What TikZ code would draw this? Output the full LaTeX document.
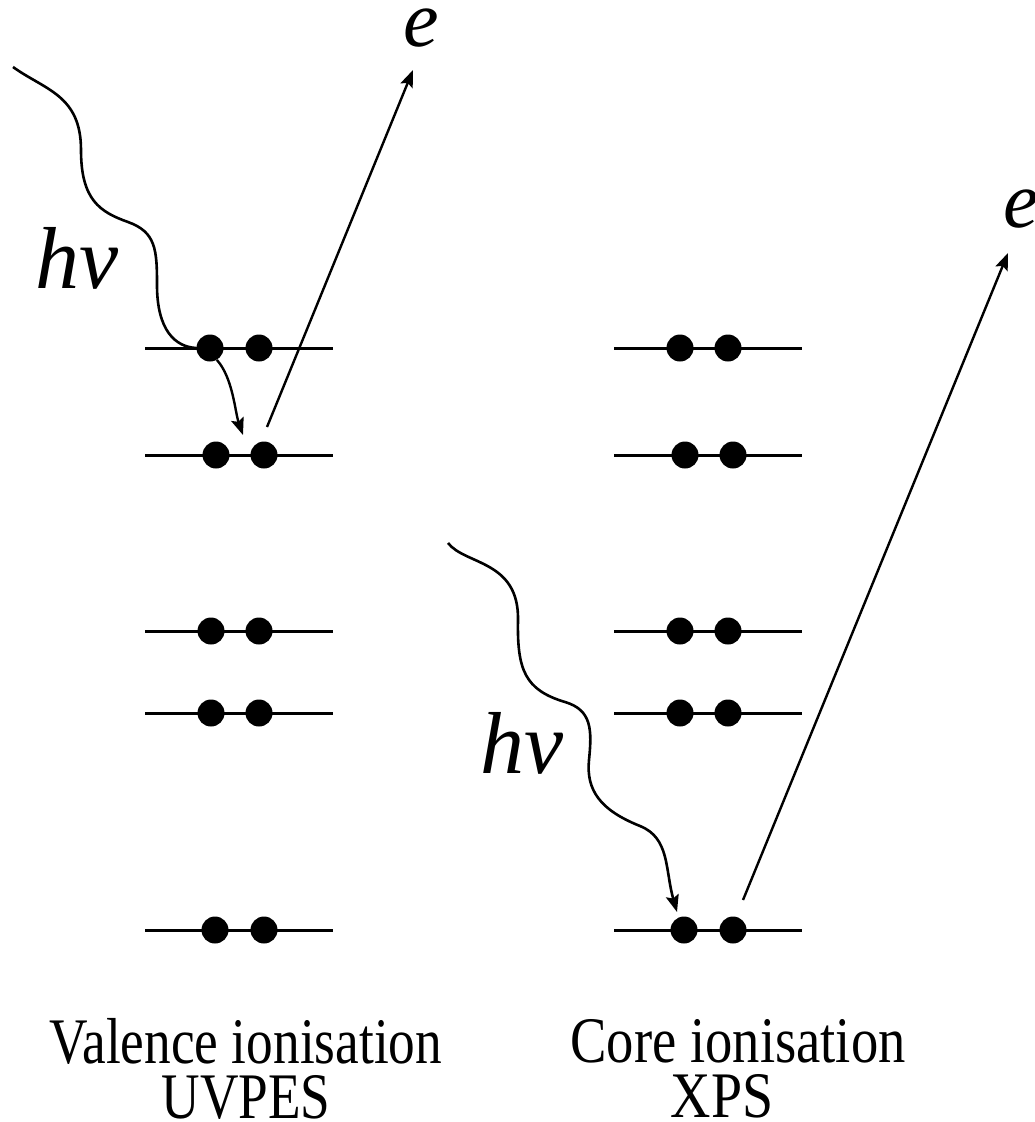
\documentclass[tikz,border=0pt]{standalone}
\usepackage{fontspec}
\setmainfont{Liberation Serif}
\usetikzlibrary{arrows.meta}
\begin{document}
\begin{tikzpicture}[x=1pt,y=-1pt,
 lvl/.style={line width=3pt},
 edot/.style={circle,fill=black,inner sep=0pt,minimum size=27pt},
 wave/.style={line width=2.6pt},
 tipped/.style={-{Stealth[length=17pt,width=13pt,inset=3pt]}},
 eline/.style={line width=2.4pt,tipped},
 lab/.style={font=\fontsize{88}{88}\selectfont\itshape, inner sep=0pt},
 elab/.style={font=\fontsize{80}{80}\selectfont\itshape, inner sep=0pt},
 captxt/.style={font=\fontsize{65}{55}\selectfont, inner sep=0pt, align=center}]
\useasboundingbox (0,0) rectangle (1034,1122);
% levels
\foreach \i/\y in {1/348,2/455,3/631,4/713,5/930}{
  \coordinate (Ls\i) at (145,\y); \coordinate (Le\i) at (333,\y);
  \coordinate (Rs\i) at (614,\y); \coordinate (Re\i) at (802,\y);
  \draw[lvl] (Ls\i) -- (Le\i);
  \draw[lvl] (Rs\i) -- (Re\i);
}
% left dots
\node[edot] (L1a) at (210,348) {}; \node[edot] (L1b) at (259,348) {};
\node[edot] (L2a) at (216,455) {}; \node[edot] (L2b) at (264,455) {};
\node[edot] (L3a) at (211,631) {}; \node[edot] (L3b) at (259,631) {};
\node[edot] (L4a) at (211,713) {}; \node[edot] (L4b) at (259,713) {};
\node[edot] (L5a) at (215,930) {}; \node[edot] (L5b) at (264,930) {};
% right dots
\node[edot] (R1a) at (680,348) {}; \node[edot] (R1b) at (728,348) {};
\node[edot] (R2a) at (685,455) {}; \node[edot] (R2b) at (733,455) {};
\node[edot] (R3a) at (680,631) {}; \node[edot] (R3b) at (728,631) {};
\node[edot] (R4a) at (680,713) {}; \node[edot] (R4b) at (728,713) {};
\node[edot] (R5a) at (684,930) {}; \node[edot] (R5b) at (733,930) {};
% labels
\node[elab,anchor=base] (eL) at (421,46) {e};
\node[elab,anchor=base] (eR) at (1021,227) {e};
\node[lab,anchor=base] (hvL) at (77,288) {hν};
\node[lab,anchor=base] (hvR) at (522,773) {hν};
\node[captxt,anchor=north] (c1) at (246,1018) {\scalebox{0.82}[1]{Valence ionisation}\\\scalebox{0.82}[1]{UVPES}};
\node[captxt,anchor=north] (c2) at (738,1019) {\scalebox{0.84}[1]{Core ionisation}\\\hspace*{-32pt}\scalebox{0.86}[1]{XPS}};
% left photon
\coordinate (pL) at (13,67);
\draw[wave] (pL) .. controls (45,90) and (81,95) .. (81,150)
  .. controls (81,200) and (100,212) .. (128,222)
  .. controls (156,232) and (157,250) .. (157,285)
  .. controls (157,330) and (175,347) .. (L1a.west);
% left internal arrow
\coordinate (tL) at (243,435);
\draw[eline] (L1a.-60) .. controls (233,378) and (235,412) .. (tL);
% left electron
\coordinate (fL) at (267,427);
\coordinate (aL) at (413,70);
\draw[eline] (fL) -- (aL);
% right photon
\coordinate (pR) at (448,543);
\coordinate (tR) at (677,912);
\draw[wave,tipped] (pR) .. controls (465,565) and (519,560) .. (518,620)
  .. controls (517,670) and (525,690) .. (565,702)
  .. controls (592,710) and (592,730) .. (589,760)
  .. controls (586,790) and (600,810) .. (640,826)
  .. controls (670,838) and (665,870) .. (tR);
% right electron
\coordinate (fR) at (743,900);
\coordinate (aR) at (1008,253);
\draw[eline] (fR) -- (aR);
\end{tikzpicture}
\end{document}
